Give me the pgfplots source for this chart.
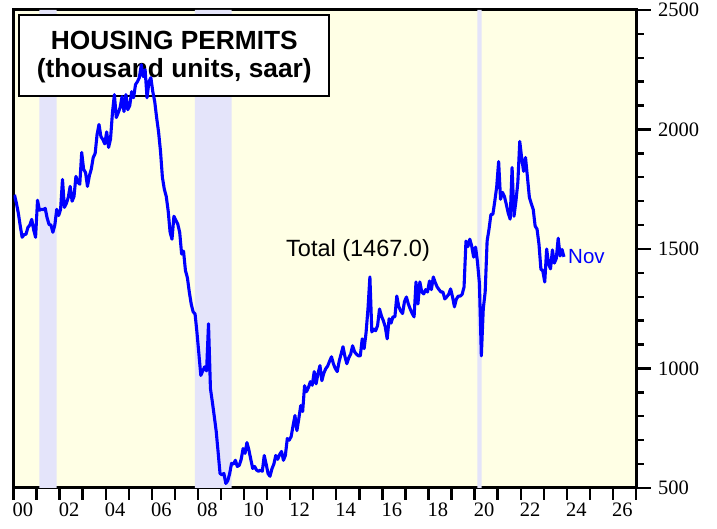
\documentclass[border=0pt]{standalone}
\usepackage{pgfplots}
\pgfplotsset{compat=1.18}
\usepackage{fontspec}
\setmainfont{Liberation Serif}
\newfontfamily\arial{Liberation Sans}
\definecolor{bgyellow}{RGB}{255,255,229}
\definecolor{recess}{RGB}{228,228,250}
\definecolor{lineblue}{RGB}{0,0,255}
\newcommand{\tickfont}{\fontsize{20.5}{22}\selectfont}
\begin{document}
\begin{tikzpicture}
\path[use as bounding box] (0pt,0pt) rectangle (717pt,529pt);
% ---------- axis 1: background, recessions, x ticks, frame
\begin{axis}[
  at={(13.5pt,41pt)}, anchor=south west,
  scale only axis, width=622.5pt, height=478pt,
  xmin=2000, xmax=2027, ymin=500, ymax=2500,
  axis background/.style={fill=bgyellow},
  axis line style={line width=3pt},
  xtick={2000,2002,...,2026},
  minor xtick={2001,2003,...,2027},
  xticklabels={00,02,04,06,08,10,12,14,16,18,20,22,24,26},
  xtick pos=bottom, ytick=\empty,
  tick align=outside,
  major tick length=12pt, minor tick length=12pt,
  tick style={black, line width=2.4pt},
  xticklabel style={anchor=north west, inner sep=0pt, xshift=-1pt, yshift=-3pt, font=\tickfont},
]
\addplot[draw=none, fill=recess] coordinates {(2001.12,500) (2001.12,2500) (2001.87,2500) (2001.87,500)} \closedcycle;
\addplot[draw=none, fill=recess] coordinates {(2007.87,500) (2007.87,2500) (2009.46,2500) (2009.46,500)} \closedcycle;
\addplot[draw=none, fill=recess] coordinates {(2020.12,500) (2020.12,2500) (2020.30,2500) (2020.30,500)} \closedcycle;
\end{axis}
% ---------- title box (under the line)
\draw[line width=2.2pt, fill=white] (19.3pt,433pt) rectangle (329.3pt,514pt);
\node[anchor=base, inner sep=0pt, font=\arial\bfseries\fontsize{26.3}{30}\selectfont] at (174.3pt,479pt) {HOUSING PERMITS};
\node[anchor=base, inner sep=0pt, font=\arial\bfseries\fontsize{26.3}{30}\selectfont] at (174.3pt,451pt) {(thousand units, saar)};
% ---------- axis 2: data and y ticks
\begin{axis}[
  at={(13.5pt,41pt)}, anchor=south west,
  scale only axis, width=622.5pt, height=478pt,
  xmin=2000, xmax=2027, ymin=500, ymax=2500,
  axis line style={draw=none},
  xtick=\empty,
  ytick={500,1000,...,2500}, minor ytick={600,700,...,2400},
  yticklabels={500,1000,1500,2000,2500},
  ytick pos=right, yticklabel pos=right,
  tick align=outside,
  major tick length=15pt, minor tick length=8pt,
  tick style={black, line width=2.4pt},
  yticklabel style={anchor=west, inner sep=0pt, xshift=7pt, font=\tickfont},
]
\addplot[lineblue, line width=3.1pt, line join=round] coordinates {
(2000.042,1727) (2000.125,1692) (2000.208,1651) (2000.292,1597) (2000.375,1549) (2000.458,1560) (2000.542,1562) (2000.625,1590) (2000.708,1600) (2000.792,1624) (2000.875,1580) (2000.958,1549)
(2001.042,1704) (2001.125,1662) (2001.208,1666) (2001.292,1665) (2001.375,1670) (2001.458,1630) (2001.542,1603) (2001.625,1600) (2001.708,1570) (2001.792,1600) (2001.875,1666) (2001.958,1640)
(2002.042,1665) (2002.125,1791) (2002.208,1674) (2002.292,1690) (2002.375,1716) (2002.458,1762) (2002.542,1700) (2002.625,1720) (2002.708,1804) (2002.792,1779) (2002.875,1771) (2002.958,1904)
(2003.042,1833) (2003.125,1820) (2003.208,1762) (2003.292,1807) (2003.375,1835) (2003.458,1883) (2003.542,1900) (2003.625,1979) (2003.708,2021) (2003.792,1970) (2003.875,1958) (2003.958,1940)
(2004.042,1990) (2004.125,1925) (2004.208,1960) (2004.292,2070) (2004.375,2146) (2004.458,2050) (2004.542,2070) (2004.625,2092) (2004.708,2138) (2004.792,2075) (2004.875,2146) (2004.958,2083)
(2005.042,2100) (2005.125,2158) (2005.208,2133) (2005.292,2188) (2005.375,2200) (2005.458,2217) (2005.542,2271) (2005.625,2221) (2005.708,2250) (2005.792,2133) (2005.875,2200) (2005.958,2217)
(2006.042,2158) (2006.125,2117) (2006.208,2050) (2006.292,1990) (2006.375,1910) (2006.458,1800) (2006.542,1750) (2006.625,1720) (2006.708,1660) (2006.792,1570) (2006.875,1541) (2006.958,1637)
(2007.042,1620) (2007.125,1604) (2007.208,1570) (2007.292,1479) (2007.375,1491) (2007.458,1410) (2007.542,1380) (2007.625,1320) (2007.708,1270) (2007.792,1237) (2007.875,1228) (2007.958,1150)
(2008.042,1060) (2008.125,971) (2008.208,990) (2008.292,1007) (2008.375,990) (2008.458,1187) (2008.542,916) (2008.625,860) (2008.708,800) (2008.792,737) (2008.875,650) (2008.958,561)
(2009.042,555) (2009.125,561) (2009.208,519) (2009.292,530) (2009.375,560) (2009.458,603) (2009.542,600) (2009.625,616) (2009.708,590) (2009.792,595) (2009.875,620) (2009.958,665)
(2010.042,645) (2010.125,690) (2010.208,660) (2010.292,620) (2010.375,582) (2010.458,590) (2010.542,575) (2010.625,570) (2010.708,575) (2010.792,570) (2010.875,636) (2010.958,600)
(2011.042,560) (2011.125,549) (2011.208,580) (2011.292,600) (2011.375,636) (2011.458,620) (2011.542,640) (2011.625,653) (2011.708,616) (2011.792,636) (2011.875,707) (2011.958,700)
(2012.042,715) (2012.125,760) (2012.208,803) (2012.292,740) (2012.375,790) (2012.458,845) (2012.542,820) (2012.625,928) (2012.708,903) (2012.792,920) (2012.875,945) (2012.958,930)
(2013.042,987) (2013.125,936) (2013.208,980) (2013.292,1012) (2013.375,949) (2013.458,980) (2013.542,999) (2013.625,1010) (2013.708,1030) (2013.792,1049) (2013.875,1020) (2013.958,1000)
(2014.042,987) (2014.125,1030) (2014.208,1060) (2014.292,1091) (2014.375,1050) (2014.458,1020) (2014.542,1045) (2014.625,1060) (2014.708,1095) (2014.792,1070) (2014.875,1060) (2014.958,1053)
(2015.042,1053) (2015.125,1124) (2015.208,1083) (2015.292,1150) (2015.375,1250) (2015.458,1383) (2015.542,1153) (2015.625,1165) (2015.708,1158) (2015.792,1180) (2015.875,1249) (2015.958,1220)
(2016.042,1200) (2016.125,1174) (2016.208,1124) (2016.292,1208) (2016.375,1190) (2016.458,1216) (2016.542,1216) (2016.625,1303) (2016.708,1260) (2016.792,1241) (2016.875,1230) (2016.958,1280)
(2017.042,1299) (2017.125,1270) (2017.208,1249) (2017.292,1230) (2017.375,1216) (2017.458,1362) (2017.542,1270) (2017.625,1362) (2017.708,1320) (2017.792,1312) (2017.875,1330) (2017.958,1320)
(2018.042,1366) (2018.125,1330) (2018.208,1383) (2018.292,1360) (2018.375,1341) (2018.458,1330) (2018.542,1320) (2018.625,1320) (2018.708,1291) (2018.792,1300) (2018.875,1310) (2018.958,1333)
(2019.042,1300) (2019.125,1258) (2019.208,1290) (2019.292,1303) (2019.375,1303) (2019.458,1310) (2019.542,1341) (2019.625,1533) (2019.708,1510) (2019.792,1541) (2019.875,1512) (2019.958,1466)
(2020.042,1508) (2020.125,1445) (2020.208,1356) (2020.292,1053) (2020.375,1249) (2020.458,1320) (2020.542,1533) (2020.625,1583) (2020.708,1645) (2020.792,1645) (2020.875,1700) (2020.958,1760)
(2021.042,1866) (2021.125,1708) (2021.208,1737) (2021.292,1720) (2021.375,1687) (2021.458,1650) (2021.542,1625) (2021.625,1841) (2021.708,1637) (2021.792,1700) (2021.875,1779) (2021.958,1950)
(2022.042,1880) (2022.125,1825) (2022.208,1883) (2022.292,1800) (2022.375,1716) (2022.458,1690) (2022.542,1666) (2022.625,1596) (2022.708,1583) (2022.792,1520) (2022.875,1416) (2022.958,1408)
(2023.042,1362) (2023.125,1500) (2023.208,1437) (2023.292,1417) (2023.375,1496) (2023.458,1441) (2023.542,1460) (2023.625,1545) (2023.708,1471) (2023.792,1498) (2023.875,1467)
};
\end{axis}
% ---------- annotations
\node[anchor=base west, inner sep=0pt, font=\arial\fontsize{23.5}{28}\selectfont] at (286pt,272.3pt) {Total (1467.0)};
\node[anchor=base west, inner sep=0pt, text=lineblue, font=\arial\fontsize{20.5}{24}\selectfont] at (568pt,265pt) {Nov};
\end{tikzpicture}
\end{document}
